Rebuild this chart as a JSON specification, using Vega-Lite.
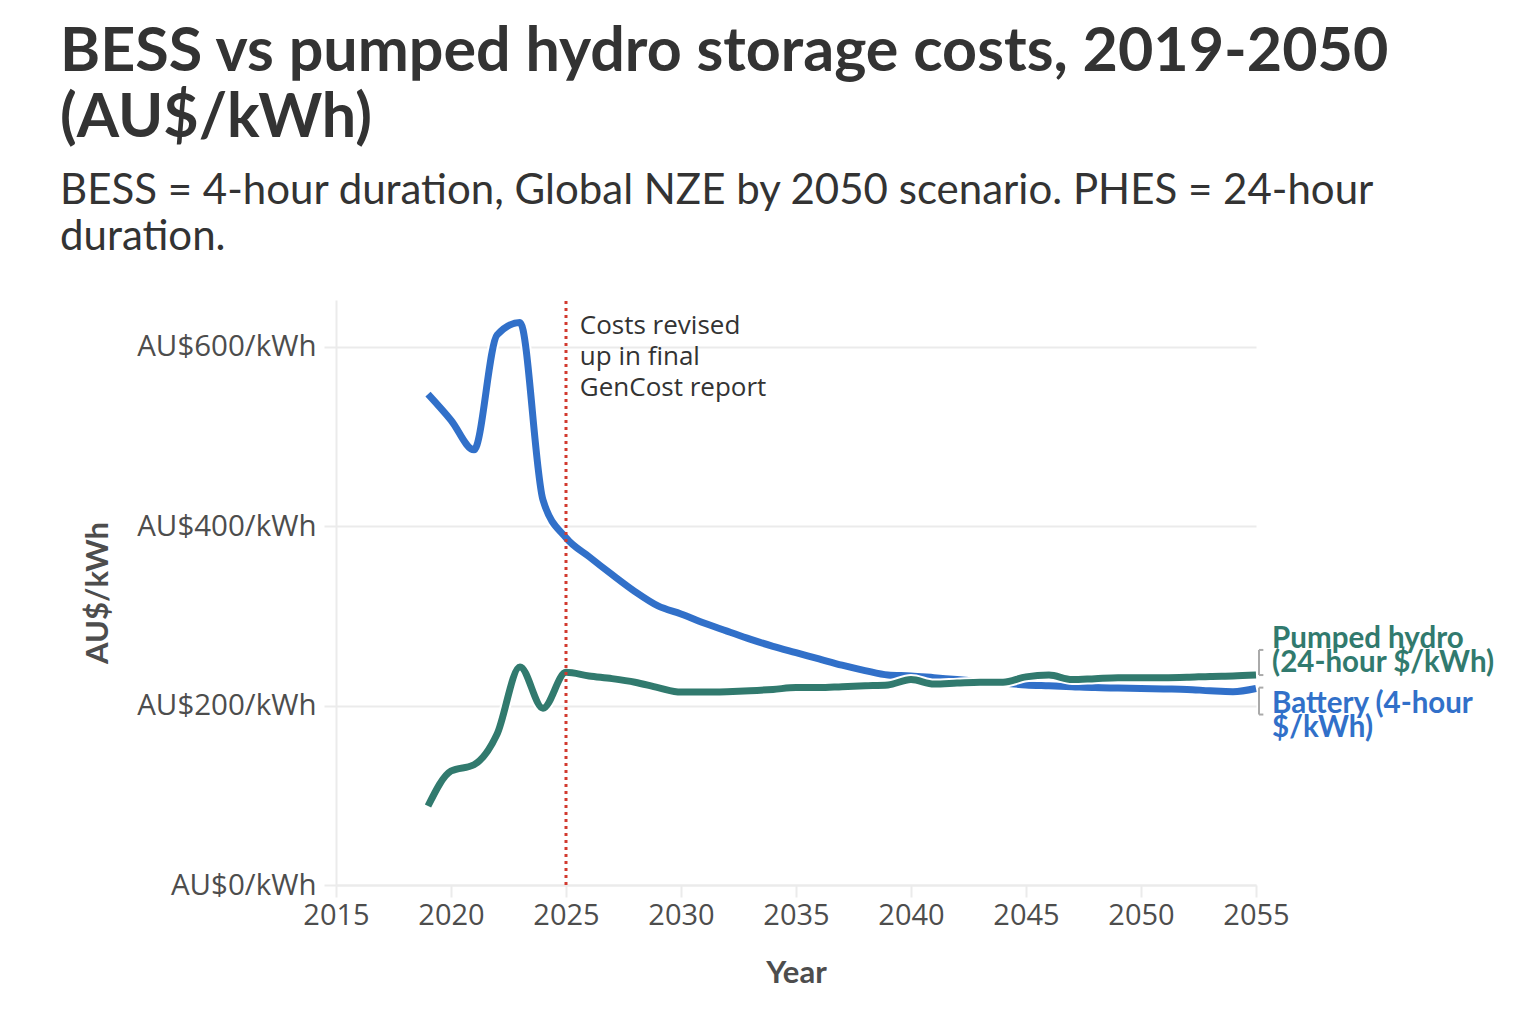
{
  "$schema": "https://vega.github.io/schema/vega-lite/v6.json",
  "width": 920,
  "height": 585,
  "autosize": "none",
  "padding": {"left": 336, "top": 300, "right": 266, "bottom": 141},
  "background": "white",
  "title": {
    "text": ["BESS vs pumped hydro storage costs, 2019-2050", "(AU$/kWh)"],
    "subtitle": ["BESS = 4-hour duration, Global NZE by 2050 scenario. PHES = 24-hour", "duration."],
    "anchor": "start",
    "frame": "group",
    "dx": -276,
    "offset": 40,
    "font": "Lato",
    "fontSize": 61,
    "fontWeight": "bold",
    "color": "#333333",
    "lineHeight": 66,
    "subtitleFont": "Lato",
    "subtitleFontSize": 42,
    "subtitleColor": "#333333",
    "subtitleLineHeight": 46,
    "subtitlePadding": 21
  },
  "config": {
    "view": {"stroke": null},
    "axis": {
      "labelFont": "Open Sans",
      "labelFontSize": 29,
      "labelColor": "#4d4d4d",
      "labelFlush": false,
      "titleFont": "Lato",
      "titleFontSize": 31,
      "titleFontWeight": "bold",
      "titleColor": "#4d4d4d",
      "domainColor": "#ebebeb",
      "domainWidth": 2,
      "tickColor": "#ebebeb",
      "tickWidth": 2,
      "tickSize": 12,
      "gridColor": "#ebebeb",
      "gridWidth": 2
    }
  },
  "data": {
    "values": [
      {"year": 2019, "series": "Battery", "cost": 547},
      {"year": 2020, "series": "Battery", "cost": 518},
      {"year": 2021, "series": "Battery", "cost": 485},
      {"year": 2022, "series": "Battery", "cost": 613},
      {"year": 2023, "series": "Battery", "cost": 627},
      {"year": 2024, "series": "Battery", "cost": 429},
      {"year": 2025, "series": "Battery", "cost": 387},
      {"year": 2026, "series": "Battery", "cost": 366},
      {"year": 2027, "series": "Battery", "cost": 346},
      {"year": 2028, "series": "Battery", "cost": 327},
      {"year": 2029, "series": "Battery", "cost": 311},
      {"year": 2030, "series": "Battery", "cost": 302},
      {"year": 2031, "series": "Battery", "cost": 292},
      {"year": 2032, "series": "Battery", "cost": 283},
      {"year": 2033, "series": "Battery", "cost": 274},
      {"year": 2034, "series": "Battery", "cost": 266},
      {"year": 2035, "series": "Battery", "cost": 259},
      {"year": 2036, "series": "Battery", "cost": 252},
      {"year": 2037, "series": "Battery", "cost": 245},
      {"year": 2038, "series": "Battery", "cost": 239},
      {"year": 2039, "series": "Battery", "cost": 234},
      {"year": 2040, "series": "Battery", "cost": 233},
      {"year": 2041, "series": "Battery", "cost": 231},
      {"year": 2042, "series": "Battery", "cost": 229},
      {"year": 2043, "series": "Battery", "cost": 227},
      {"year": 2044, "series": "Battery", "cost": 225},
      {"year": 2045, "series": "Battery", "cost": 223},
      {"year": 2046, "series": "Battery", "cost": 222},
      {"year": 2047, "series": "Battery", "cost": 221},
      {"year": 2048, "series": "Battery", "cost": 220},
      {"year": 2049, "series": "Battery", "cost": 219.5},
      {"year": 2050, "series": "Battery", "cost": 219},
      {"year": 2051, "series": "Battery", "cost": 218.5},
      {"year": 2052, "series": "Battery", "cost": 218},
      {"year": 2053, "series": "Battery", "cost": 216.5},
      {"year": 2054, "series": "Battery", "cost": 215.5},
      {"year": 2055, "series": "Battery", "cost": 219},
      {"year": 2019, "series": "Pumped hydro", "cost": 88},
      {"year": 2020, "series": "Pumped hydro", "cost": 127},
      {"year": 2021, "series": "Pumped hydro", "cost": 134},
      {"year": 2022, "series": "Pumped hydro", "cost": 168},
      {"year": 2023, "series": "Pumped hydro", "cost": 243},
      {"year": 2024, "series": "Pumped hydro", "cost": 197},
      {"year": 2025, "series": "Pumped hydro", "cost": 237},
      {"year": 2026, "series": "Pumped hydro", "cost": 233},
      {"year": 2027, "series": "Pumped hydro", "cost": 230},
      {"year": 2028, "series": "Pumped hydro", "cost": 226},
      {"year": 2029, "series": "Pumped hydro", "cost": 220},
      {"year": 2030, "series": "Pumped hydro", "cost": 215},
      {"year": 2031, "series": "Pumped hydro", "cost": 215},
      {"year": 2032, "series": "Pumped hydro", "cost": 215.5},
      {"year": 2033, "series": "Pumped hydro", "cost": 216.5},
      {"year": 2034, "series": "Pumped hydro", "cost": 218},
      {"year": 2035, "series": "Pumped hydro", "cost": 220},
      {"year": 2036, "series": "Pumped hydro", "cost": 220},
      {"year": 2037, "series": "Pumped hydro", "cost": 221},
      {"year": 2038, "series": "Pumped hydro", "cost": 222},
      {"year": 2039, "series": "Pumped hydro", "cost": 223},
      {"year": 2040, "series": "Pumped hydro", "cost": 229},
      {"year": 2041, "series": "Pumped hydro", "cost": 224},
      {"year": 2042, "series": "Pumped hydro", "cost": 225},
      {"year": 2043, "series": "Pumped hydro", "cost": 226},
      {"year": 2044, "series": "Pumped hydro", "cost": 226},
      {"year": 2045, "series": "Pumped hydro", "cost": 232},
      {"year": 2046, "series": "Pumped hydro", "cost": 234},
      {"year": 2047, "series": "Pumped hydro", "cost": 229},
      {"year": 2048, "series": "Pumped hydro", "cost": 230},
      {"year": 2049, "series": "Pumped hydro", "cost": 231},
      {"year": 2050, "series": "Pumped hydro", "cost": 231},
      {"year": 2051, "series": "Pumped hydro", "cost": 231},
      {"year": 2052, "series": "Pumped hydro", "cost": 231.5},
      {"year": 2053, "series": "Pumped hydro", "cost": 232.5},
      {"year": 2054, "series": "Pumped hydro", "cost": 233},
      {"year": 2055, "series": "Pumped hydro", "cost": 234}
    ]
  },
  "encoding": {
    "x": {
      "field": "year",
      "type": "quantitative",
      "scale": {"domain": [2015, 2055], "nice": false, "zero": false},
      "axis": {
        "values": [2015, 2020, 2025, 2030, 2035, 2040, 2045, 2050, 2055],
        "format": "d",
        "grid": false,
        "labelPadding": 4,
        "titlePadding": 28
      },
      "title": "Year"
    },
    "y": {
      "field": "cost",
      "type": "quantitative",
      "scale": {"domain": [0, 652], "nice": false},
      "axis": {
        "values": [0, 200, 400, 600],
        "labelExpr": "'AU$' + datum.value + '/kWh'",
        "labelFontSize": 29.5,
        "grid": true,
        "labelPadding": 8,
        "titlePadding": 22
      },
      "title": "AU$/kWh"
    }
  },
  "layer": [
    {
      "transform": [{"filter": "datum.series === 'Battery'"}],
      "mark": {"type": "line", "interpolate": "monotone", "stroke": "white", "strokeWidth": 11, "strokeCap": "butt"}
    },
    {
      "transform": [{"filter": "datum.series === 'Battery'"}],
      "mark": {"type": "line", "interpolate": "monotone", "stroke": "#3170c9", "strokeWidth": 7, "strokeCap": "butt"}
    },
    {
      "transform": [{"filter": "datum.series === 'Pumped hydro'"}],
      "mark": {"type": "line", "interpolate": "monotone", "stroke": "white", "strokeWidth": 11, "strokeCap": "butt"}
    },
    {
      "transform": [{"filter": "datum.series === 'Pumped hydro'"}],
      "mark": {"type": "line", "interpolate": "monotone", "stroke": "#317a6e", "strokeWidth": 7, "strokeCap": "butt"}
    },
    {
      "data": {"values": [{"year": 2025, "cost": 0, "cost2": 652}]},
      "mark": {"type": "rule", "color": "#d23a2f", "strokeWidth": 3, "strokeDash": [3, 4]},
      "encoding": {"y2": {"field": "cost2"}}
    },
    {
      "data": {"values": [{"year": 2025.6, "cost": 614, "label": "Costs revised\nup in final\nGenCost report"}]},
      "mark": {"type": "text", "align": "left", "baseline": "alphabetic", "lineBreak": "\n", "lineHeight": 31, "font": "Open Sans", "fontSize": 26, "color": "#333333"},
      "encoding": {"text": {"field": "label"}}
    },
    {
      "data": {
        "values": [
          {"year": 2055.13, "year2": 2055.13, "cost": 262, "cost2": 234},
          {"year": 2055.13, "year2": 2055.32, "cost": 262, "cost2": 262},
          {"year": 2055.13, "year2": 2055.32, "cost": 234, "cost2": 234},
          {"year": 2055.13, "year2": 2055.13, "cost": 220, "cost2": 190},
          {"year": 2055.13, "year2": 2055.32, "cost": 220, "cost2": 220},
          {"year": 2055.13, "year2": 2055.32, "cost": 190, "cost2": 190}
        ]
      },
      "mark": {"type": "rule", "color": "#aaaaaa", "strokeWidth": 2},
      "encoding": {"x2": {"field": "year2"}, "y2": {"field": "cost2"}}
    },
    {
      "data": {
        "values": [
          {"year": 2055.7, "cost": 264, "series": "Pumped hydro", "label": "Pumped hydro\n(24-hour $/kWh)"},
          {"year": 2055.7, "cost": 192, "series": "Battery", "label": "Battery (4-hour\n$/kWh)"}
        ]
      },
      "mark": {"type": "text", "align": "left", "baseline": "alphabetic", "lineBreak": "\n", "lineHeight": 24, "font": "Lato", "fontSize": 29.5, "fontWeight": "bold"},
      "encoding": {
        "text": {"field": "label"},
        "color": {
          "field": "series",
          "type": "nominal",
          "scale": {"domain": ["Battery", "Pumped hydro"], "range": ["#3170c9", "#317a6e"]},
          "legend": null
        }
      }
    }
  ]
}
